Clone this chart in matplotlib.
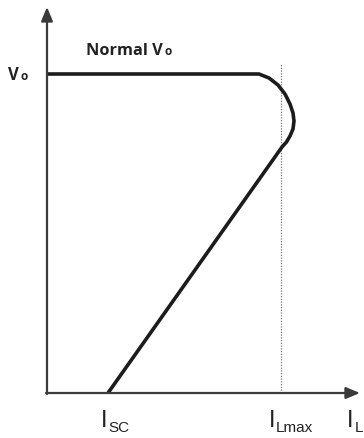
import matplotlib.pyplot as plt

# Courbe de sortie (courant de charge, tension) -- unites arbitraires
i_curve = [0, 212, 222, 231, 238, 243, 246, 247, 246, 243, 239.5, 235, 61]
v_curve = [319, 319, 315, 308, 299, 289, 280, 272, 264, 257, 251, 246, 0]

i_sc = 61          # courant de court-circuit
i_lmax = 234       # courant de charge max
i_l_end = 313      # fin de l'axe des courants
v_o = 319          # tension nominale
v_top = 386        # fin de l'axe des tensions
v_dotted_top = 329

fig = plt.figure(figsize=(3.64, 4.39), dpi=100)
ax = fig.add_axes([0, 0, 1, 1])
ax.set_xlim(-47, 317)
ax.set_ylim(-45, 394)
ax.axis('off')

axis_col = '#3a3a3a'
arrow = dict(arrowstyle='-|>,head_length=0.6,head_width=0.25', mutation_scale=14,
             lw=1.6, color=axis_col, shrinkA=0, shrinkB=0)

# Axes avec fleches
ax.annotate('', xy=(0, v_top), xytext=(0, -1), arrowprops=arrow)
ax.annotate('', xy=(i_l_end, 0), xytext=(-1, 0), arrowprops=arrow)

# Ligne pointillee I_Lmax
ax.plot([i_lmax, i_lmax], [0, v_dotted_top], color='#777777', lw=0.9, linestyle=(0, (1, 1.2)))

# Courbe principale
ax.plot(i_curve, v_curve, color='#1c1c1c', lw=2.6, solid_joinstyle='round', solid_capstyle='butt')

# Textes
bold = dict(family='Open Sans', fontweight='bold', color='#222222', va='baseline')
ax.text(39, 339, 'Normal V', fontsize=11.8, **bold)
ax.text(117.6, 339, 'o', fontsize=8.5, **bold)
ax.text(-39.5, 314, 'V', fontsize=12, **bold)
ax.text(-26.5, 314, 'o', fontsize=8.5, **bold)

reg = dict(family='Liberation Sans', color='#222222', va='baseline')
ax.text(i_sc - 7, -33, 'I', fontsize=17, **reg)
ax.text(i_sc, -38, 'SC', fontsize=11, **reg)
ax.text(i_lmax - 12, -33, 'I', fontsize=17, **reg)
ax.text(i_lmax - 5, -38, 'Lmax', fontsize=11, **reg)
ax.text(i_l_end - 13, -33, 'I', fontsize=17, **reg)
ax.text(i_l_end - 5.5, -38, 'L', fontsize=11, **reg)

fig.savefig('out.png', dpi=100)
